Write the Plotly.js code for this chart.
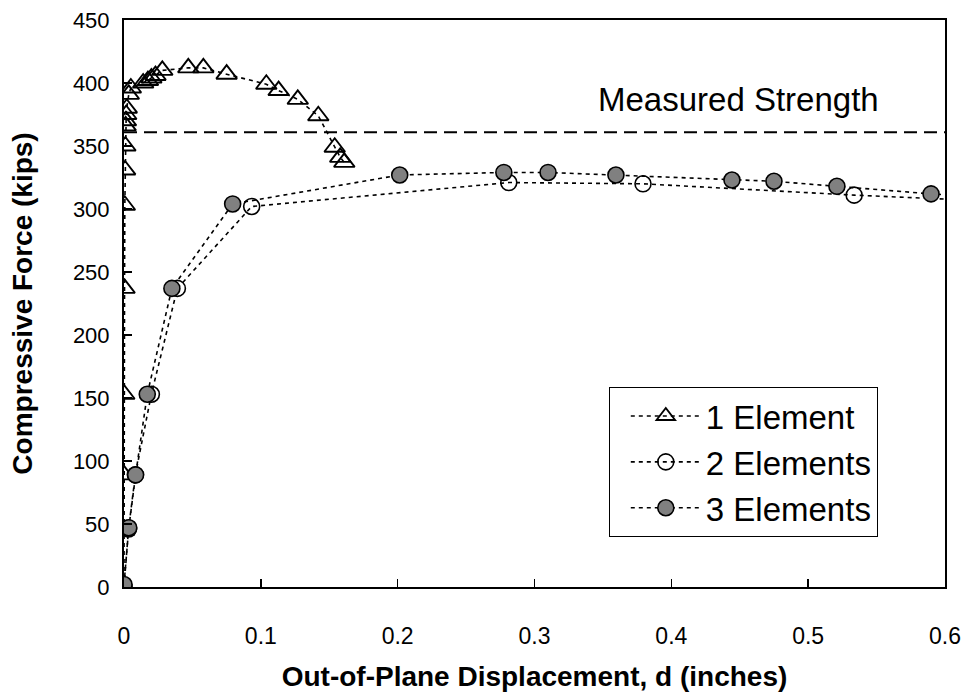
<!DOCTYPE html>
<html>
<head>
<meta charset="utf-8">
<script src="https://cdn.plot.ly/plotly-3.0.1.min.js"></script>
<style>
  html, body { margin: 0; padding: 0; background: #ffffff; }
  #chart { width: 969px; height: 692px; }
</style>
</head>
<body>
<div id="chart"></div>
<script>
// Out-of-plane displacement (inches) vs. compressive force (kips)
const oneElemX = [0, 0, 0, 0.0002, 0.0004, 0.0006, 0.0008, 0.001, 0.0012, 0.0014, 0.0016, 0.002, 0.0035, 0.005,
                  0.014, 0.0175, 0.020, 0.023, 0.028, 0.047, 0.058, 0.075, 0.104, 0.113, 0.127, 0.142, 0.154, 0.158, 0.161];
const oneElemY = [0, 45, 89, 153, 237, 303, 331, 350, 366, 370, 375, 380, 391, 396,
                  400, 402, 404, 406, 410, 412, 412, 407, 399, 394, 387, 374, 349, 341, 337];

const twoElemX = [0, 0.0033, 0.0083, 0.020, 0.039, 0.0933, 0.2812, 0.3793, 0.5336, 0.64];
const twoElemY = [0, 46, 89, 153, 237, 302, 321, 320, 311, 306];

const threeElemX = [0, 0.0035, 0.0085, 0.017, 0.035, 0.0794, 0.2015, 0.2776, 0.3099, 0.3595, 0.4443, 0.475, 0.521, 0.5898, 0.65];
const threeElemY = [2, 47, 89, 153, 237, 304, 327, 329, 329, 327, 323, 322, 318, 312, 308];

const measuredStrength = 361;
const measuredLabel = 'Measured Strength';

const seriesNames = ['1 Element', '2 Elements', '3 Elements'];
const xTickVals = [0, 0.1, 0.2, 0.3, 0.4, 0.5, 0.6];
const xTickText = ['0', '0.1', '0.2', '0.3', '0.4', '0.5', '0.6'];
const yTickVals = [0, 50, 100, 150, 200, 250, 300, 350, 400, 450];

const FONT = 'Arial, "Liberation Sans", sans-serif';
const dotted = {color: '#000000', width: 1.6, dash: '4px,4px'};

const traces = [
  {
    x: oneElemX, y: oneElemY, name: seriesNames[0], legendgroup: 'a',
    type: 'scatter', mode: 'lines+markers', line: dotted,
    marker: {symbol: 'triangle-up-open', size: 18, color: '#000000', line: {width: 1.9, color: '#000000'}}
  },
  {
    x: twoElemX, y: twoElemY, name: seriesNames[1], legendgroup: 'b',
    type: 'scatter', mode: 'lines+markers', line: dotted,
    marker: {symbol: 'circle-open', size: 16, color: '#000000', line: {width: 1.6, color: '#000000'}}
  },
  {
    x: threeElemX, y: threeElemY, name: seriesNames[2], legendgroup: 'c',
    type: 'scatter', mode: 'lines+markers', line: dotted,
    marker: {symbol: 'circle', size: 16, color: '#808080', line: {width: 1.6, color: '#000000'}}
  }
];

const layout = {
  width: 969, height: 692,
  margin: {l: 124, r: 24, t: 20, b: 105, pad: 0},
  paper_bgcolor: '#ffffff', plot_bgcolor: '#ffffff',
  font: {family: FONT, color: '#000000', size: 21},
  showlegend: true,
  legend: {
    x: 0.5905, y: 0.3527, xanchor: 'left', yanchor: 'top',
    bgcolor: '#ffffff', bordercolor: '#000000', borderwidth: 1,
    font: {family: FONT, size: 33, color: '#000000'},
    traceorder: 'grouped', tracegroupgap: 0, indentation: 16, itemwidth: 70
  },
  xaxis: {
    range: [0, 0.6], tickvals: xTickVals, ticktext: xTickText,
    ticks: 'inside', ticklen: 8, tickwidth: 1.5, tickcolor: '#000000',
    showline: true, linecolor: '#000000', linewidth: 2, mirror: true,
    showgrid: false, zeroline: false,
    tickfont: {family: FONT, size: 23}, ticklabelstandoff: 27,
    title: {text: 'Out-of-Plane Displacement, d (inches)', font: {family: FONT, size: 28, weight: 'bold'}, standoff: 20}
  },
  yaxis: {
    range: [0, 450], tickvals: yTickVals,
    ticks: 'inside', ticklen: 8, tickwidth: 1.5, tickcolor: '#000000',
    showline: true, linecolor: '#000000', linewidth: 2, mirror: true,
    showgrid: false, zeroline: false,
    tickfont: {family: FONT, size: 22}, ticklabelstandoff: 8,
    title: {text: 'Compressive Force (kips)', font: {family: FONT, size: 28, weight: 'bold'}, standoff: 32}
  },
  shapes: [{
    type: 'line', xref: 'paper', yref: 'y', x0: 0, x1: 1, y0: measuredStrength, y1: measuredStrength,
    line: {color: '#000000', width: 2, dash: '13px,7px'}
  }],
  annotations: [{
    xref: 'x', yref: 'y', x: 0.553, y: 387, xanchor: 'right', yanchor: 'middle',
    text: measuredLabel, showarrow: false, font: {family: FONT, size: 33, color: '#000000'}
  }]
};

Plotly.newPlot('chart', traces, layout, {displayModeBar: false, staticPlot: true});
</script>
</body>
</html>
